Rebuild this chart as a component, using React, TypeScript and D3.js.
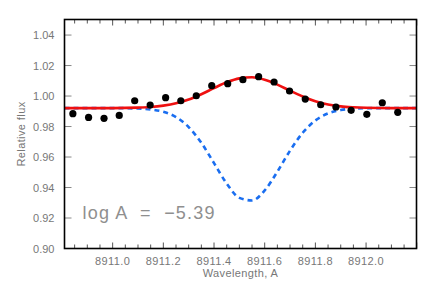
import { useEffect, useRef } from 'react';
import * as d3 from 'd3';

// observed spectrum (points)
const obsWave = [
  8910.843, 8910.905, 8910.966, 8911.026, 8911.087, 8911.148, 8911.209, 8911.269,
  8911.330, 8911.391, 8911.454, 8911.514, 8911.576, 8911.637, 8911.698, 8911.760,
  8911.821, 8911.881, 8911.941, 8912.003, 8912.064, 8912.125,
];
const obsFlux = [
  0.9884, 0.9860, 0.9854, 0.9873, 0.9969, 0.9941, 0.9989, 0.9969,
  1.0002, 1.0068, 1.0081, 1.0107, 1.0127, 1.0092, 1.0033, 0.9980,
  0.9943, 0.9928, 0.9906, 0.9880, 0.9956, 0.9893,
];

// model curves
const modelWave = [
  8910.81, 8911.0, 8911.1, 8911.15, 8911.2, 8911.25, 8911.3, 8911.35, 8911.4,
  8911.45, 8911.5, 8911.55, 8911.6, 8911.65, 8911.7, 8911.75, 8911.8, 8911.85,
  8911.9, 8911.95, 8912.0, 8912.1, 8912.2,
];
const fitFlux = [
  0.9921, 0.9921, 0.9924, 0.9928, 0.9937, 0.9952, 0.9977, 1.0012, 1.0052,
  1.0090, 1.0116, 1.0123, 1.0107, 1.0075, 1.0035, 0.9997, 0.9966, 0.9945,
  0.9932, 0.9926, 0.9923, 0.9921, 0.9921,
];
const absFlux = [
  0.9921, 0.9921, 0.9918, 0.9912, 0.9897, 0.9862, 0.9796, 0.9693, 0.9560,
  0.9426, 0.9332, 0.9315, 0.9381, 0.9504, 0.9642, 0.9759, 0.9840, 0.9886,
  0.9908, 0.9917, 0.9920, 0.9921, 0.9921,
];

const xTicks = [8911.0, 8911.2, 8911.4, 8911.6, 8911.8, 8912.0];
const yTicks = [0.90, 0.92, 0.94, 0.96, 0.98, 1.00, 1.02, 1.04];
const annotation = 'log A  =  \u22125.39';

const App = () => {
  const svgRef = useRef<SVGSVGElement>(null);

  useEffect(() => {
    if (!svgRef.current) return;
    const svg = d3.select(svgRef.current);
    svg.selectAll('*').remove();

    const left = 64.5, right = 416.5, top = 19.5, bottom = 248.5;
    const font = '"Liberation Sans", Arial, sans-serif';

    const x = d3.scaleLinear().domain([8910.81, 8912.199]).range([left, right]);
    const y = d3.scaleLinear().domain([0.90, 1.0502]).range([bottom, top]);

    const g = svg.append('g');

    // minor x ticks, bottom and top
    const minor = d3.range(8910.85, 8912.2, 0.05);
    minor.forEach(v => {
      const isMajor = Math.abs(Math.round(v * 5) / 5 - v) < 1e-6;
      const len = isMajor ? 6 : 4;
      g.append('line')
        .attr('x1', x(v)).attr('x2', x(v))
        .attr('y1', bottom).attr('y2', bottom - len)
        .attr('stroke', '#555').attr('stroke-width', 1);
      g.append('line')
        .attr('x1', x(v)).attr('x2', x(v))
        .attr('y1', top).attr('y2', top + len)
        .attr('stroke', '#555').attr('stroke-width', 1);
    });

    // y ticks left and right
    yTicks.forEach(v => {
      g.append('line')
        .attr('x1', left).attr('x2', left + 7)
        .attr('y1', y(v)).attr('y2', y(v))
        .attr('stroke', '#888').attr('stroke-width', 1);
      g.append('line')
        .attr('x1', right).attr('x2', right - 7)
        .attr('y1', y(v)).attr('y2', y(v))
        .attr('stroke', '#888').attr('stroke-width', 1);
      g.append('text')
        .attr('x', left - 10)
        .attr('y', y(v) + 4)
        .attr('text-anchor', 'end')
        .attr('font-family', font)
        .attr('font-size', 11)
        .attr('fill', '#777')
        .text(v.toFixed(2));
    });

    xTicks.forEach(v => {
      g.append('text')
        .attr('x', x(v))
        .attr('y', 265)
        .attr('text-anchor', 'middle')
        .attr('font-family', font)
        .attr('font-size', 11)
        .attr('letter-spacing', 0.4)
        .attr('fill', '#777')
        .text(v.toFixed(1));
    });

    // model with absorption only (dashed blue)
    const line = d3
      .line<number>()
      .x((_, i) => x(modelWave[i]))
      .curve(d3.curveMonotoneX);

    g.append('path')
      .datum(absFlux)
      .attr('fill', 'none')
      .attr('stroke', '#1a6ef0')
      .attr('stroke-width', 2.6)
      .attr('stroke-dasharray', '5,4')
      .attr('d', line.y(d => y(d)));

    // fitted model (red)
    g.append('path')
      .datum(fitFlux)
      .attr('fill', 'none')
      .attr('stroke', '#ee1111')
      .attr('stroke-width', 2.6)
      .attr('d', line.y(d => y(d)));

    // observed points
    g.selectAll('.dot')
      .data(obsFlux)
      .enter()
      .append('circle')
      .attr('class', 'dot')
      .attr('cx', (_, i) => x(obsWave[i]))
      .attr('cy', d => y(d))
      .attr('r', 3.6)
      .attr('fill', '#000');

    // frame
    g.append('rect')
      .attr('x', left).attr('y', top)
      .attr('width', right - left).attr('height', bottom - top)
      .attr('fill', 'none')
      .attr('stroke', '#000')
      .attr('stroke-width', 1.6);

    // labels
    g.append('text')
      .attr('x', (left + right) / 2)
      .attr('y', 277)
      .attr('text-anchor', 'middle')
      .attr('font-family', font)
      .attr('font-size', 11)
      .attr('letter-spacing', 0.4)
      .attr('fill', '#777')
      .text('Wavelength, A');

    g.append('text')
      .attr('transform', `translate(25,${(top + bottom) / 2}) rotate(-90)`)
      .attr('text-anchor', 'middle')
      .attr('font-family', font)
      .attr('font-size', 11)
      .attr('letter-spacing', 0.4)
      .attr('fill', '#777')
      .text('Relative flux');

    g.append('text')
      .attr('x', 82.5)
      .attr('y', 218.5)
      .attr('font-family', font)
      .attr('font-size', 18)
      .attr('textLength', 132)
      .attr('lengthAdjust', 'spacing')
      .attr('fill', '#8f8f8f')
      .style('white-space', 'pre')
      .text(annotation);
  }, []);

  return (
    <svg
      ref={svgRef}
      width={436}
      height={290}
      style={{ position: 'absolute', left: 0, top: 0, background: '#fff' }}
    />
  );
};

export default App;
